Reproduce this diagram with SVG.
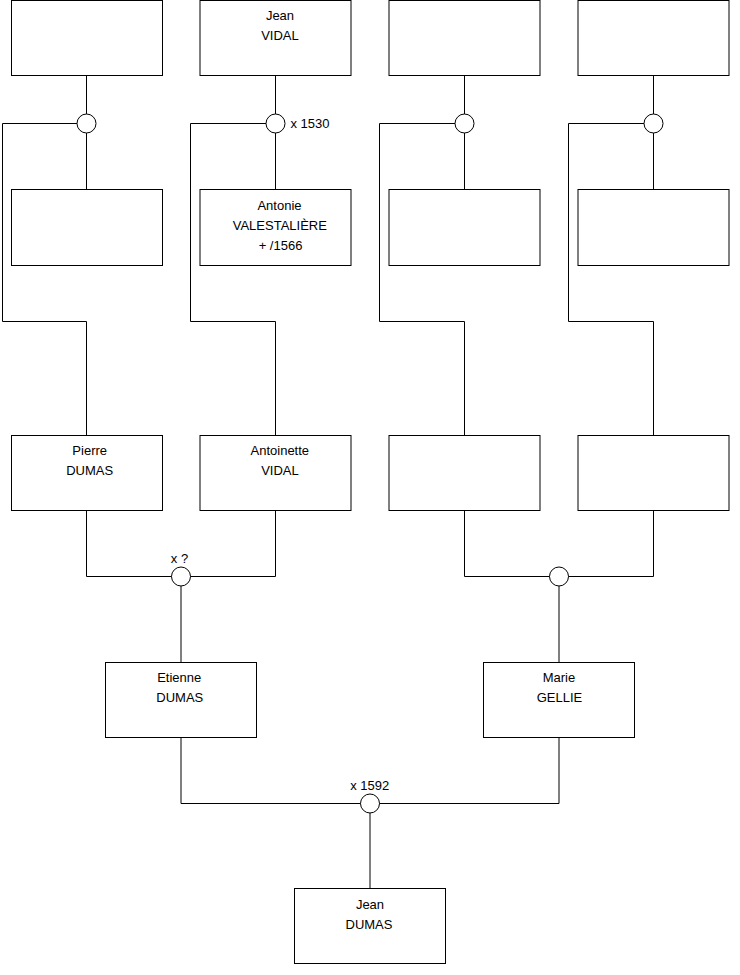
<svg xmlns="http://www.w3.org/2000/svg" width="740" height="975" viewBox="0 0 740 975">
<style>
.box{fill:#fff;stroke:#000;stroke-width:1}
.ln{fill:none;stroke:#000;stroke-width:1}
.un{fill:#fff;stroke:#000;stroke-width:1}
text{font-family:"Liberation Sans",Arial,sans-serif;font-size:13px;fill:#000}
.c{text-anchor:middle}
</style>
<rect width="740" height="975" fill="#fff"/>
<g id="connectors">
<path class="ln" d="M86.5 75.5V189.5M86.5 123.5H2.5V321.5H86.5V435.5"/>
<path class="ln" d="M275.5 75.5V189.5M275.5 123.5H190.5V321.5H275.5V435.5"/>
<path class="ln" d="M464.5 75.5V189.5M464.5 123.5H379.5V321.5H464.5V435.5"/>
<path class="ln" d="M653.5 75.5V189.5M653.5 123.5H568.5V321.5H653.5V435.5"/>
<path class="ln" d="M86.5 510.5V576.5H275.5V510.5M181 576.5V662.5"/>
<path class="ln" d="M464.5 510.5V576.5H653.5V510.5M559 576.5V662.5"/>
<path class="ln" d="M181 737.5V803.5H559V737.5M370 803.5V888.5"/>
</g>
<g id="unions">
<g id="u1"><circle class="un" cx="86.5" cy="123.5" r="9.5"/></g>
<g id="u2"><circle class="un" cx="275.5" cy="123.5" r="9.5"/><text x="290.5" y="128">x 1530</text></g>
<g id="u3"><circle class="un" cx="464.5" cy="123.5" r="9.5"/></g>
<g id="u4"><circle class="un" cx="653.5" cy="123.5" r="9.5"/></g>
<g id="u5"><circle class="un" cx="181" cy="576.5" r="9.5"/><text class="c" x="179.5" y="562.5">x ?</text></g>
<g id="u7"><circle class="un" cx="370" cy="803.5" r="9.5"/><text class="c" x="369.7" y="790">x 1592</text></g>
<g id="u6"><circle class="un" cx="559" cy="576.5" r="9.5"/></g>
</g>
<g id="p1"><rect class="box" x="11.5" y="0.5" width="151" height="75"/></g>
<g id="p2"><rect class="box" x="200" y="0.5" width="151" height="75"/><text class="c" x="280" y="19.5">Jean</text><text class="c" x="280" y="39.5">VIDAL</text></g>
<g id="p3"><rect class="box" x="389" y="0.5" width="151" height="75"/></g>
<g id="p4"><rect class="box" x="578" y="0.5" width="151" height="75"/></g>
<g id="p5"><rect class="box" x="11.5" y="189.5" width="151" height="76"/></g>
<g id="p6"><rect class="box" x="200" y="189.5" width="151" height="76"/><text class="c" x="279.5" y="210">Antonie</text><text class="c" x="279.8" y="230">VALESTALIÈRE</text><text class="c" x="280.5" y="250">+ /1566</text></g>
<g id="p7"><rect class="box" x="389" y="189.5" width="151" height="76"/></g>
<g id="p8"><rect class="box" x="578" y="189.5" width="151" height="76"/></g>
<g id="p9"><rect class="box" x="11.5" y="435.5" width="151" height="75"/><text class="c" x="89.7" y="455">Pierre</text><text class="c" x="89.7" y="474.5">DUMAS</text></g>
<g id="p10"><rect class="box" x="200" y="435.5" width="151" height="75"/><text class="c" x="279.8" y="455">Antoinette</text><text class="c" x="280" y="474.5">VIDAL</text></g>
<g id="p11"><rect class="box" x="389" y="435.5" width="151" height="75"/></g>
<g id="p12"><rect class="box" x="578" y="435.5" width="151" height="75"/></g>
<g id="p13"><rect class="box" x="105.5" y="662.5" width="151" height="75"/><text class="c" x="179.2" y="682">Etienne</text><text class="c" x="179.8" y="702">DUMAS</text></g>
<g id="p14"><rect class="box" x="483.5" y="662.5" width="151" height="75"/><text class="c" x="559" y="682">Marie</text><text class="c" x="559.5" y="702">GELLIE</text></g>
<g id="p15"><rect class="box" x="294.5" y="888.5" width="151" height="75"/><text class="c" x="370" y="909">Jean</text><text class="c" x="369" y="929">DUMAS</text></g>
</svg>
